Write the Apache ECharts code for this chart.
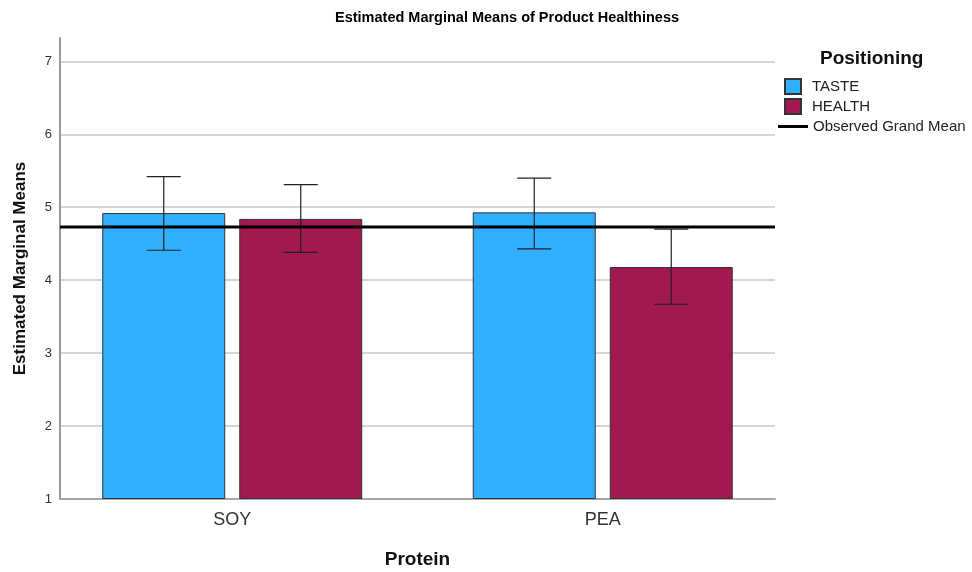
<!DOCTYPE html>
<html>
<head>
<meta charset="utf-8">
<script src="https://cdn.jsdelivr.net/npm/echarts@6/dist/echarts.min.js"></script>
<style>html,body{margin:0;padding:0;background:#fff}#c{width:972px;height:572px}</style>
</head>
<body>
<div id="c"></div>
<script>
const categories = ['SOY', 'PEA'];
const groupNames = ['TASTE', 'HEALTH'];
const tasteMeans = [4.92, 4.93];
const healthMeans = [4.84, 4.18];
const tasteLower = [4.41, 4.43];
const tasteUpper = [5.42, 5.40];
const healthLower = [4.38, 3.67];
const healthUpper = [5.31, 4.70];
const grandMean = 4.73;
const yMin = 1, yMax = 7.32, yStep = 1;

const FONT = '"Liberation Sans", Arial, sans-serif';
const BAR_W = 123, BAR_GAP = 14, CAP = 17;

function errRenderer(sign) {
  return function (params, api) {
    const xi = api.value(0);
    const lo = api.coord([xi, api.value(1)]);
    const hi = api.coord([xi, api.value(2)]);
    const x = lo[0] + sign * (BAR_W + BAR_GAP) / 2;
    const st = { stroke: '#222', lineWidth: 1.2 };
    return {
      type: 'group',
      children: [
        { type: 'line', shape: { x1: x, y1: hi[1], x2: x, y2: lo[1] }, style: st },
        { type: 'line', shape: { x1: x - CAP, y1: hi[1], x2: x + CAP, y2: hi[1] }, style: st },
        { type: 'line', shape: { x1: x - CAP, y1: lo[1], x2: x + CAP, y2: lo[1] }, style: st }
      ]
    };
  };
}

const chart = echarts.init(document.getElementById('c'));
chart.setOption({
  animation: false,
  textStyle: { fontFamily: FONT },
  title: [
    { text: 'Estimated Marginal Means of Product Healthiness', left: 335, top: 10, padding: 0,
      textStyle: { fontFamily: FONT, fontSize: 14.5, fontWeight: 'bold', color: '#000' } },
    { text: 'Positioning', left: 820, top: 49, padding: 0,
      textStyle: { fontFamily: FONT, fontSize: 19, fontWeight: 'bold', color: '#111' } }
  ],
  legend: [
    { data: groupNames, orient: 'vertical', left: 784, top: 78, padding: 0, icon: 'rect',
      itemWidth: 16, itemHeight: 15, itemGap: 3,
      textStyle: { fontFamily: FONT, fontSize: 15, color: '#222', padding: [0, 0, 0, 6] } },
    { data: [{ name: 'Observed Grand Mean', icon: 'rect' }], orient: 'vertical', left: 778, top: 119, padding: 0,
      itemWidth: 30, itemHeight: 3,
      textStyle: { fontFamily: FONT, fontSize: 15, color: '#222' } }
  ],
  grid: [
    { left: 60, top: 38, width: 715, height: 461, outerBoundsMode: 'none', containLabel: false },
    { left: 47, top: 38, width: 741, height: 461, outerBoundsMode: 'none', containLabel: false }
  ],
  xAxis: [
    { gridIndex: 0, type: 'value', min: 0, max: 1,
      axisLine: { show: true, onZero: false, lineStyle: { color: '#a6a6a6', width: 2 } },
      axisTick: { show: false }, axisLabel: { show: false }, splitLine: { show: false } },
    { gridIndex: 1, type: 'category', data: categories,
      axisLine: { show: false }, axisTick: { show: false },
      axisLabel: { fontFamily: FONT, fontSize: 18, color: '#333', margin: 12 },
      name: 'Protein', nameLocation: 'middle', nameGap: 51,
      nameTextStyle: { fontFamily: FONT, fontSize: 19, fontWeight: 'bold', color: '#111' } }
  ],
  yAxis: [
    { gridIndex: 0, type: 'value', min: yMin, max: yMax, interval: yStep,
      axisLine: { show: true, lineStyle: { color: '#999', width: 2 } },
      axisTick: { show: false },
      axisLabel: { fontFamily: FONT, fontSize: 13, color: '#333', margin: 8, showMaxLabel: false },
      splitLine: { show: true, showMaxLine: false, lineStyle: { color: '#d6d6d6', width: 2 } },
      name: 'Estimated Marginal Means', nameLocation: 'middle', nameGap: 31,
      nameTextStyle: { fontFamily: FONT, fontSize: 17, fontWeight: 'bold', color: '#111' } },
    { gridIndex: 1, type: 'value', min: yMin, max: yMax, interval: yStep, startValue: yMin, show: false }
  ],
  series: [
    { name: groupNames[0], type: 'bar', xAxisIndex: 1, yAxisIndex: 1, data: tasteMeans,
      barWidth: BAR_W, barGap: (BAR_GAP / BAR_W * 100).toFixed(2) + '%',
      itemStyle: { color: '#31aeff', borderColor: '#333', borderWidth: 1 } },
    { name: groupNames[1], type: 'bar', xAxisIndex: 1, yAxisIndex: 1, data: healthMeans,
      barWidth: BAR_W,
      itemStyle: { color: '#a1194e', borderColor: '#333', borderWidth: 1 } },
    { type: 'custom', xAxisIndex: 1, yAxisIndex: 1, z: 5, renderItem: errRenderer(-1),
      data: categories.map((c, i) => [i, tasteLower[i], tasteUpper[i]]) },
    { type: 'custom', xAxisIndex: 1, yAxisIndex: 1, z: 5, renderItem: errRenderer(1),
      data: categories.map((c, i) => [i, healthLower[i], healthUpper[i]]) },
    { name: 'Observed Grand Mean', type: 'line', xAxisIndex: 0, yAxisIndex: 0, z: 10,
      symbol: 'none', data: [[0, grandMean], [1, grandMean]],
      lineStyle: { color: '#000', width: 3 }, itemStyle: { color: '#000' } }
  ]
});
</script>
</body>
</html>
